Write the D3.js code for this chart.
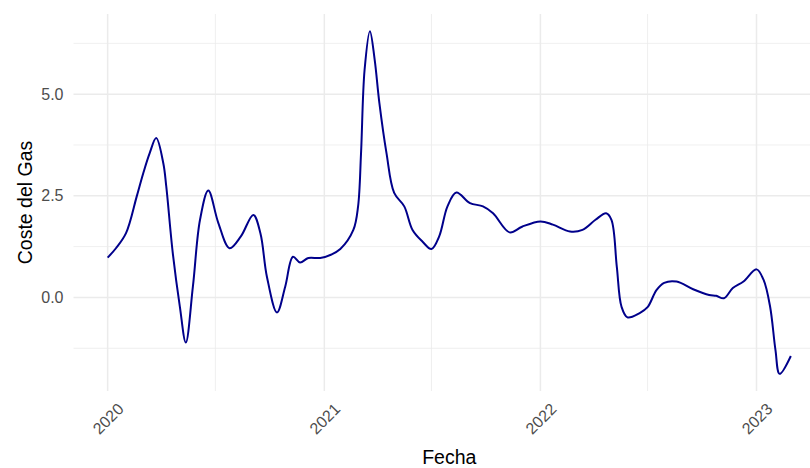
<!DOCTYPE html>
<html>
<head>
<meta charset="utf-8">
<script src="https://cdn.jsdelivr.net/npm/d3@7"></script>
<style>
  body { margin: 0; background: #fff; }
  text { font-family: "Liberation Sans", Arial, sans-serif; }
</style>
</head>
<body>
<div id="chart"></div>
<script>
// values
var fechas = [
    "2020-01-01", "2020-01-15", "2020-02-01", "2020-02-19", "2020-03-01", "2020-03-12",
    "2020-03-23", "2020-04-04", "2020-04-09", "2020-04-20", "2020-05-02", "2020-05-12",
    "2020-05-24", "2020-06-05", "2020-06-19", "2020-07-06", "2020-07-25", "2020-08-13",
    "2020-09-03", "2020-09-15", "2020-09-26", "2020-10-13", "2020-10-27", "2020-11-09",
    "2020-11-21", "2020-12-05", "2020-12-25", "2021-01-12", "2021-01-28", "2021-02-19",
    "2021-02-27", "2021-03-04", "2021-03-10", "2021-03-19", "2021-03-27", "2021-04-04",
    "2021-04-16", "2021-04-29", "2021-05-16", "2021-05-30", "2021-06-16", "2021-07-01",
    "2021-07-14", "2021-07-28", "2021-08-12", "2021-09-04", "2021-09-26", "2021-10-13",
    "2021-11-10", "2021-12-01", "2022-01-01", "2022-01-22", "2022-02-20", "2022-03-13",
    "2022-04-04", "2022-04-22", "2022-05-01", "2022-05-10", "2022-05-18", "2022-05-28",
    "2022-06-17", "2022-07-01", "2022-07-16", "2022-07-29", "2022-08-19", "2022-09-16",
    "2022-10-13", "2022-10-25", "2022-11-07", "2022-11-22", "2022-12-10", "2023-01-01",
    "2023-01-13", "2023-01-24", "2023-02-02", "2023-02-09", "2023-02-28"
];
var coste = [
    0.98, 1.21, 1.58, 2.48, 3.05, 3.55,
    3.92, 3.30, 2.73, 1.09, -0.23, -1.11,
    0.27, 1.91, 2.63, 1.83, 1.21, 1.50,
    2.03, 1.58, 0.51, -0.37, 0.27, 1.00,
    0.86, 0.97, 0.97, 1.05, 1.19, 1.66,
    2.24, 3.55, 5.60, 6.55, 5.85, 4.78,
    3.55, 2.57, 2.24, 1.66, 1.37, 1.19,
    1.50, 2.24, 2.58, 2.32, 2.24, 2.07,
    1.60, 1.74, 1.87, 1.79, 1.62, 1.66,
    1.91, 2.07, 1.91, 0.76, -0.23, -0.49,
    -0.39, -0.24, 0.18, 0.36, 0.39, 0.20,
    0.06, 0.04, -0.02, 0.23, 0.39, 0.69,
    0.43, -0.23, -1.29, -1.88, -1.44
];
var yBreaks = [0, 2.5, 5];
var yMinor = [-1.25, 1.25, 3.75, 6.25];
var xBreaks = ["2020-01-01", "2021-01-01", "2022-01-01", "2023-01-01"];
var xMinor = ["2020-07-01", "2021-07-01", "2022-07-01"];

var width = 810, height = 468;
var panel = {left: 73.5, right: 825, top: 14, bottom: 391};

var parse = d3.utcParse("%Y-%m-%d");
var datos = fechas.map(function (f, i) { return {fecha: parse(f), valor: coste[i]}; });

var svg = d3.select("#chart").append("svg")
    .attr("width", width)
    .attr("height", height);

// ggplot style 5% expansion
var xExt = d3.extent(datos, function (d) { return d.fecha; });
var xPad = (xExt[1] - xExt[0]) * 0.05;
var x = d3.scaleUtc()
    .domain([new Date(+xExt[0] - xPad), new Date(+xExt[1] + xPad)])
    .range([panel.left, panel.right]);

var yExt = d3.extent(coste);
var yPad = (yExt[1] - yExt[0]) * 0.05;
var y = d3.scaleLinear()
    .domain([yExt[0] - yPad, yExt[1] + yPad])
    .range([panel.bottom, panel.top]);

var grid = svg.append("g").attr("stroke", "#ebebeb");

grid.selectAll(".hmin").data(yMinor).enter().append("line")
    .attr("x1", panel.left).attr("x2", panel.right)
    .attr("y1", function (d) { return y(d); }).attr("y2", function (d) { return y(d); })
    .attr("stroke-width", 0.8);
grid.selectAll(".vmin").data(xMinor).enter().append("line")
    .attr("y1", panel.top).attr("y2", panel.bottom)
    .attr("x1", function (d) { return x(parse(d)); }).attr("x2", function (d) { return x(parse(d)); })
    .attr("stroke-width", 0.8);
grid.selectAll(".hmaj").data(yBreaks).enter().append("line")
    .attr("x1", panel.left).attr("x2", panel.right)
    .attr("y1", function (d) { return y(d); }).attr("y2", function (d) { return y(d); })
    .attr("stroke-width", 1.5);
grid.selectAll(".vmaj").data(xBreaks).enter().append("line")
    .attr("y1", panel.top).attr("y2", panel.bottom)
    .attr("x1", function (d) { return x(parse(d)); }).attr("x2", function (d) { return x(parse(d)); })
    .attr("stroke-width", 1.5);

// line
var linea = d3.line()
    .x(function (d) { return x(d.fecha); })
    .y(function (d) { return y(d.valor); })
    .curve(d3.curveCatmullRom.alpha(0.5));

svg.append("path")
    .datum(datos)
    .attr("d", linea)
    .attr("fill", "none")
    .attr("stroke", "#00008b")
    .attr("stroke-width", 2)
    .attr("stroke-linejoin", "round");

// y axis labels
var yAxis = d3.axisLeft(y).tickValues(yBreaks).tickFormat(d3.format(".1f")).tickSize(0).tickPadding(10);
var gy = svg.append("g")
    .attr("transform", "translate(" + panel.left + ",0)")
    .call(yAxis);
gy.select(".domain").remove();
gy.selectAll("text")
    .attr("fill", "#4d4d4d")
    .style("font-size", "16px")
    .style("font-family", "'Liberation Sans', Arial, sans-serif");

// x axis labels, rotated 45
var gx = svg.append("g");
gx.selectAll("text").data(xBreaks).enter().append("text")
    .attr("transform", function (d) {
        return "translate(" + (x(parse(d)) + 9) + "," + 402 + ") rotate(-45)";
    })
    .attr("text-anchor", "end")
    .attr("dy", "0.71em")
    .attr("fill", "#4d4d4d")
    .style("font-size", "16px")
    .text(function (d) { return d.slice(0, 4); });

// titles
svg.append("text")
    .attr("x", (panel.left + panel.right) / 2)
    .attr("y", 464)
    .attr("text-anchor", "middle")
    .attr("fill", "#000")
    .style("font-size", "19.5px")
    .text("Fecha");

svg.append("text")
    .attr("transform", "translate(32," + ((panel.top + panel.bottom) / 2) + ") rotate(-90)")
    .attr("text-anchor", "middle")
    .attr("fill", "#000")
    .style("font-size", "19.5px")
    .text("Coste del Gas");
</script>
</body>
</html>
